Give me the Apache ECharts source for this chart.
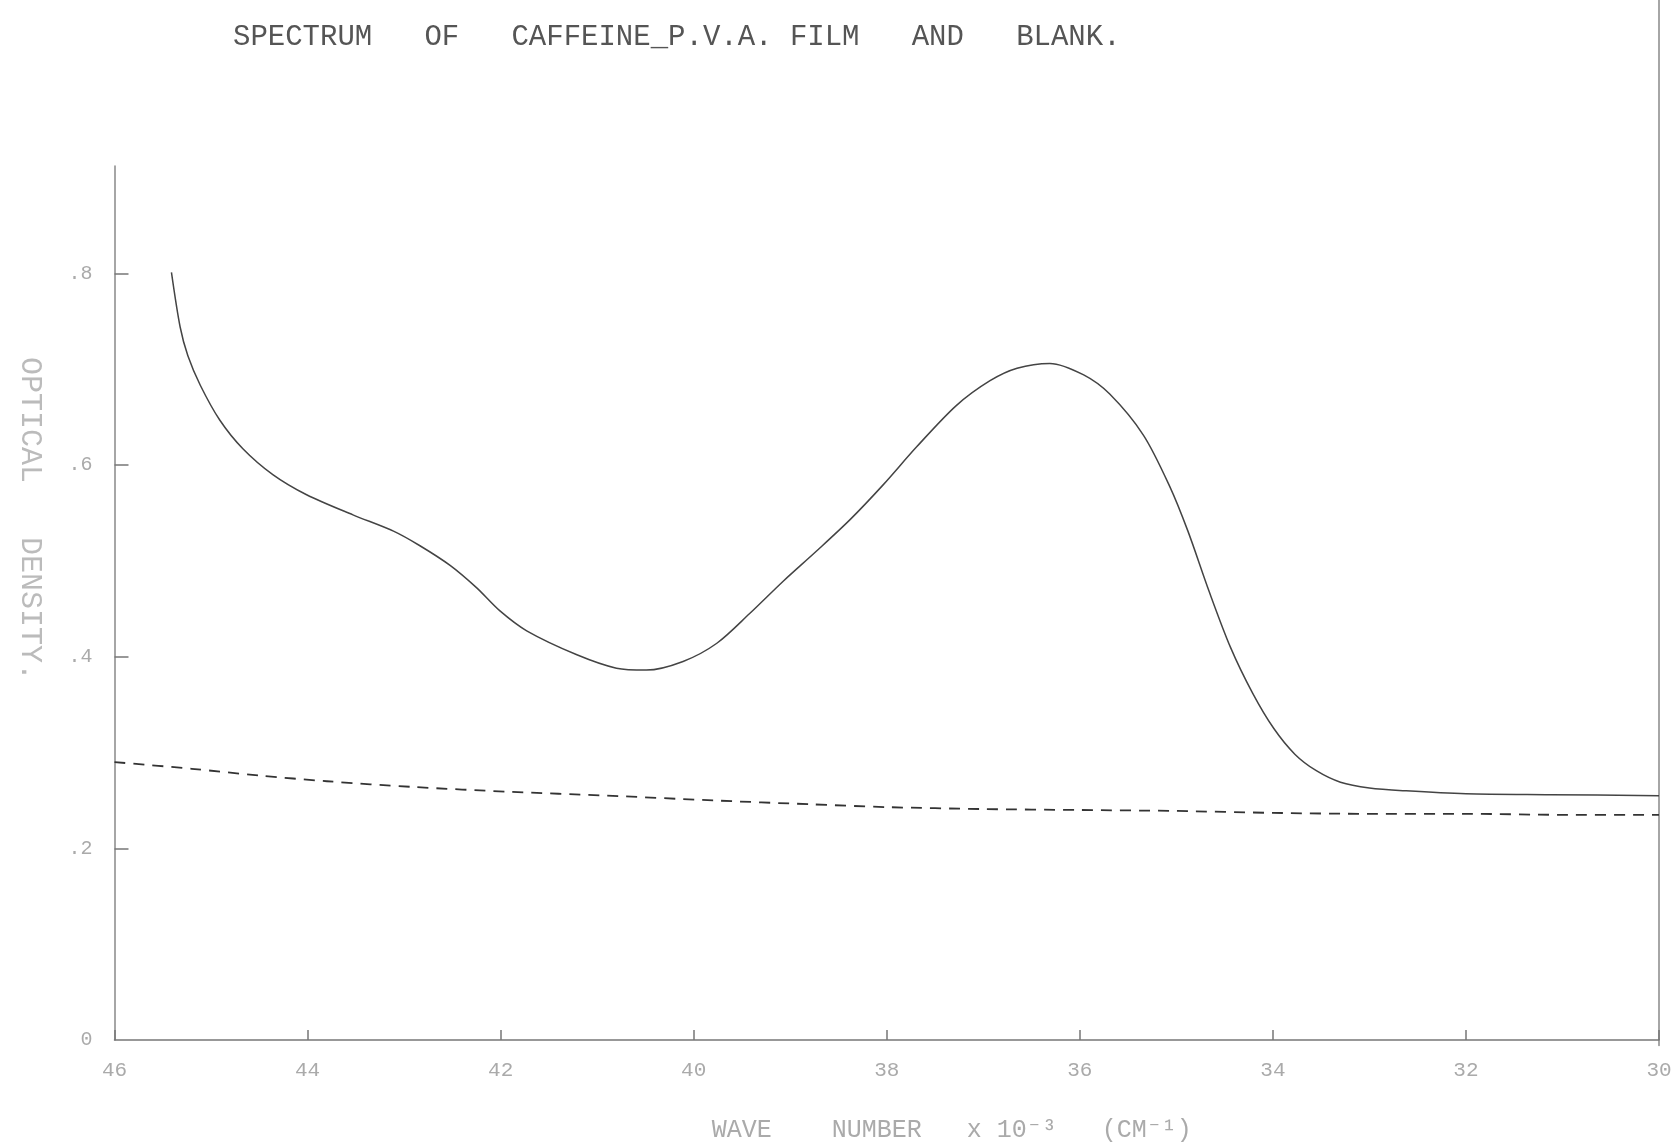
<!DOCTYPE html>
<html>
<head>
<meta charset="utf-8">
<script src="https://cdn.jsdelivr.net/npm/echarts@6/dist/echarts.min.js"></script>
<style>
html,body{margin:0;padding:0;background:#fff;}
#chart{width:1678px;height:1148px;}
</style>
</head>
<body>
<div id="chart"></div>
<script>
// Wave number (x10^3 cm^-1) tick labels
var xTicks = [46, 44, 42, 40, 38, 36, 34, 32, 30];
var yTicks = [0, 0.2, 0.4, 0.6, 0.8];
var yTickLabels = {"0": "0", "0.2": ".2", "0.4": ".4", "0.6": ".6", "0.8": ".8"};

// Caffeine - P.V.A. film (solid curve)
var filmWave = [45.41, 45.32, 45.24, 45.11, 44.91, 44.67, 44.36, 44.01, 43.53, 43.11, 42.84, 42.52, 42.25, 42.01, 41.73, 41.21, 40.80, 40.49, 40.11, 39.76, 39.42, 39.07, 38.73, 38.38, 38.04, 37.69, 37.28, 36.93, 36.65, 36.31, 35.96, 35.69, 35.34, 35.07, 34.88, 34.66, 34.44, 34.21, 33.99, 33.77, 33.55, 33.30, 33.00, 32.62, 32.00, 31.13, 30.00];
var filmOD   = [0.801, 0.744, 0.714, 0.683, 0.647, 0.617, 0.590, 0.569, 0.548, 0.531, 0.516, 0.495, 0.472, 0.448, 0.427, 0.402, 0.388, 0.386, 0.395, 0.414, 0.445, 0.479, 0.510, 0.543, 0.579, 0.619, 0.662, 0.688, 0.701, 0.706, 0.694, 0.674, 0.631, 0.578, 0.531, 0.468, 0.410, 0.362, 0.325, 0.298, 0.281, 0.269, 0.263, 0.260, 0.257, 0.256, 0.255];

// Blank (dashed curve)
var blankWave = [46.0, 45.2, 44.5, 43.8, 42.9, 41.9, 40.9, 39.8, 38.8, 38.0, 37.0, 36.0, 35.0, 34.0, 33.0, 32.0, 31.0, 30.0];
var blankOD   = [0.290, 0.283, 0.276, 0.270, 0.264, 0.259, 0.255, 0.250, 0.246, 0.243, 0.241, 0.240, 0.239, 0.237, 0.236, 0.236, 0.235, 0.235];

function pairs(a, b){ return a.map(function(v, i){ return [v, b[i]]; }); }

var chart = echarts.init(document.getElementById('chart'));
var mono = '"Liberation Mono", "DejaVu Sans Mono", monospace';
chart.setOption({
  backgroundColor: '#ffffff',
  animation: false,
  title: {
    text: 'SPECTRUM   OF   CAFFEINE_P.V.A. FILM   AND   BLANK.',
    left: 228, top: 18,
    textStyle: {fontFamily: mono, fontWeight: 'normal', fontSize: 29, color: '#555'}
  },
  grid: [
    {left: 114.5, right: 19, top: 166, bottom: 102.4},
    {left: 114.5, right: 19, top: 0, bottom: 102.4}
  ],
  xAxis: [{
    type: 'value', gridIndex: 0, min: 30, max: 46, interval: 2, inverse: true,
    name: 'WAVE    NUMBER   x 10⁻³   (CM⁻¹)',
    nameLocation: 'middle', nameGap: 78,
    nameTextStyle: {fontFamily: mono, fontSize: 25, color: '#aaa', padding: [0, 0, 0, 130]},
    axisLine: {show: true, lineStyle: {color: '#777', width: 1.5}},
    axisTick: {show: true, inside: true, length: 10, lineStyle: {color: '#777', width: 1.5}},
    axisLabel: {margin: 20, fontFamily: mono, fontSize: 21, color: '#aaa',
      formatter: function(v){ return xTicks.indexOf(v) >= 0 ? String(v) : ''; }},
    splitLine: {show: false}
  }, {
    type: 'value', gridIndex: 1, min: 30, max: 46, inverse: true, show: false
  }],
  yAxis: [{
    type: 'value', gridIndex: 0, min: 0, max: 0.912,
    name: 'OPTICAL   DENSITY.',
    nameLocation: 'middle', nameGap: 70, nameRotate: -90,
    nameTextStyle: {fontFamily: mono, fontSize: 30, color: '#bbb', padding: [0, 168, 0, 0]},
    axisLine: {show: true, lineStyle: {color: '#888', width: 1.5}},
    axisTick: {show: true, inside: true, length: 14, customValues: [0.2, 0.4, 0.6, 0.8], lineStyle: {color: '#777', width: 1.5}},
    axisLabel: {margin: 22, fontFamily: mono, fontSize: 20, color: '#aaa',
      customValues: yTicks,
      formatter: function(v){ var k = String(Math.round(v * 10) / 10); return yTickLabels[k] !== undefined ? yTickLabels[k] : ''; }},
    splitLine: {show: false}
  }, {
    type: 'value', gridIndex: 1, min: 0, max: 1, position: 'right',
    axisLine: {show: true, onZero: false, lineStyle: {color: '#888', width: 1.5}},
    axisTick: {show: false}, axisLabel: {show: false}, splitLine: {show: false}
  }],
  series: [{
    name: 'Caffeine P.V.A. film', type: 'line', xAxisIndex: 0, yAxisIndex: 0,
    data: pairs(filmWave, filmOD), smooth: 0.3, symbol: 'none',
    lineStyle: {color: '#444', width: 1.5}
  }, {
    name: 'Blank', type: 'line', xAxisIndex: 0, yAxisIndex: 0,
    data: pairs(blankWave, blankOD), smooth: 0.3, symbol: 'none',
    lineStyle: {color: '#333', width: 1.8, type: [11, 8]}
  }]
});
</script>
</body>
</html>
